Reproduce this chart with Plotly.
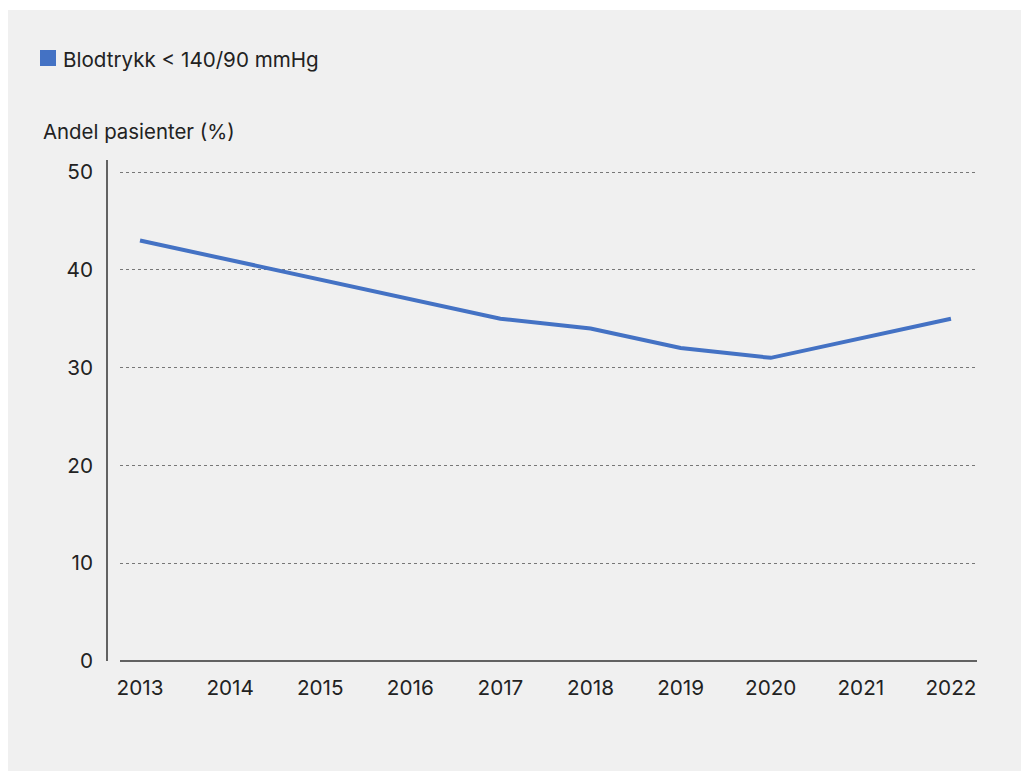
import plotly.graph_objects as go

years = ["2013", "2014", "2015", "2016", "2017", "2018", "2019", "2020", "2021", "2022"]
values = [43, 41, 39, 37, 35, 34, 32, 31, 33, 35]
series_name = "Blodtrykk < 140/90 mmHg"
y_title = "Andel pasienter (%)"
y_ticks = [0, 10, 20, 30, 40, 50]

W, H = 1021, 771
L, R, T, B = 120, 977, 160, 661
pw, ph = R - L, B - T

def px_x(x):
    return (x - L) / pw

def px_y(y):
    return (B - y) / ph

FONT = "Inter"
TXT = "#222222"
BLUE = "#4472C4"
BG = "#f0f0f0"

fig = go.Figure()
fig.add_trace(go.Scatter(x=years, y=values, mode="lines", name=series_name,
                         line=dict(color=BLUE, width=4), showlegend=False))

shapes = [
    dict(type="rect", xref="paper", yref="paper", x0=px_x(8), x1=px_x(1021), y0=px_y(771), y1=px_y(10),
         fillcolor=BG, line=dict(width=0), layer="below"),
    dict(type="line", xref="paper", yref="paper", x0=px_x(107), x1=px_x(107), y0=0, y1=1,
         line=dict(color="#333333", width=1.5)),
    dict(type="line", xref="paper", yref="paper", x0=0, x1=1, y0=0, y1=0,
         line=dict(color="#333333", width=1.5)),
    dict(type="rect", xref="paper", yref="paper", x0=px_x(40), x1=px_x(56), y0=px_y(66), y1=px_y(50),
         fillcolor=BLUE, line=dict(width=0)),
]
annotations = [
    dict(text=series_name, xref="paper", yref="paper", x=px_x(61), y=px_y(59), xanchor="left", yanchor="middle",
         showarrow=False, font=dict(family=FONT, size=20.6, color=TXT)),
    dict(text=y_title, xref="paper", yref="paper", x=px_x(41), y=px_y(131), xanchor="left", yanchor="middle",
         showarrow=False, font=dict(family=FONT, size=20.4, color=TXT)),
]

fig.update_layout(
    width=W, height=H,
    margin=dict(l=L, r=W - R, t=T, b=H - B, pad=0),
    paper_bgcolor="white", plot_bgcolor=BG,
    shapes=shapes, annotations=annotations,
    font=dict(family=FONT, size=20.5, color=TXT),
    xaxis=dict(type="category", range=[-0.222, 9.289], showgrid=False, zeroline=False, showline=False,
               ticks="", tickfont=dict(family=FONT, size=20.7, color=TXT), ticklabelstandoff=12),
    yaxis=dict(range=[0, 51.23], tickvals=y_ticks, showgrid=True, gridcolor="#777777", griddash="dot",
               gridwidth=1, zeroline=False, showline=False, ticks="",
               tickfont=dict(family=FONT, size=20.7, color=TXT), ticklabelstandoff=26),
)

fig.write_html("out.html")
